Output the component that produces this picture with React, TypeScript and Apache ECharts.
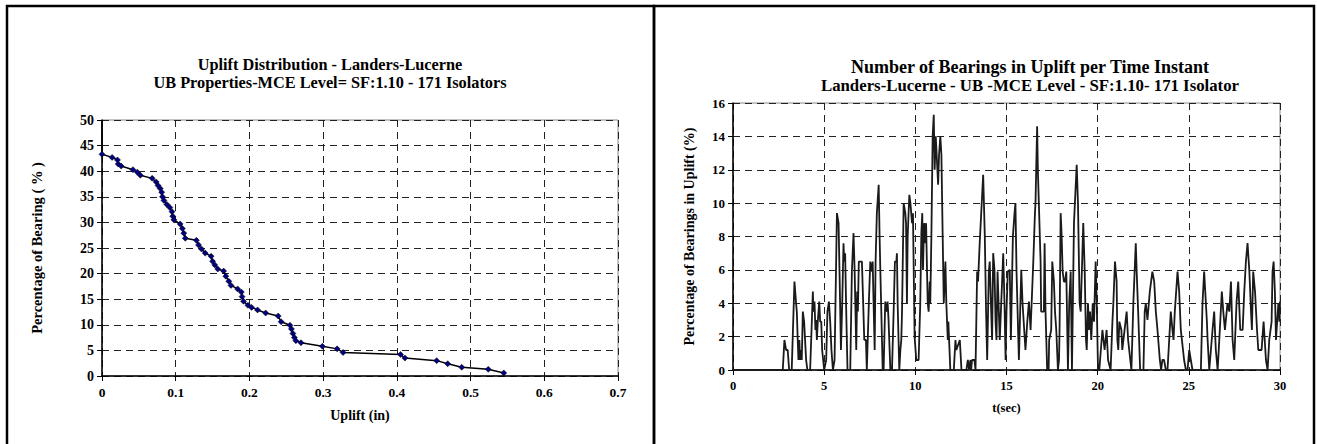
import React, { useEffect, useRef } from "react";
import * as echarts from "echarts";

// ---- Left chart: Uplift distribution (uplift in, % of bearings) ----
const upliftIn = [
  0, 0, 0.0137, 0.021, 0.022, 0.026, 0.042, 0.048, 0.052, 0.068, 0.0735, 0.076, 0.079, 0.081, 0.082,
  0.084, 0.088, 0.092, 0.095, 0.096, 0.0975, 0.106, 0.109, 0.111, 0.113, 0.128, 0.131, 0.135, 0.14,
  0.148, 0.15, 0.153, 0.157, 0.165, 0.168, 0.172, 0.175, 0.184, 0.189, 0.19, 0.192, 0.198, 0.203,
  0.211, 0.222, 0.239, 0.243, 0.255, 0.257, 0.259, 0.261, 0.263, 0.27, 0.299, 0.319, 0.327, 0.405,
  0.411, 0.454, 0.469, 0.488, 0.524, 0.545,
];
const bearingPct = [
  50, 43.3, 42.7, 42.2, 41.4, 41.0, 40.3, 39.8, 39.2, 38.6, 37.9, 37.2, 36.6, 35.9, 35.0,
  34.3, 33.5, 32.9, 32.1, 31.2, 30.5, 29.7, 28.8, 27.9, 26.9, 26.5, 25.6, 24.8, 24.0,
  23.4, 22.4, 21.7, 20.9, 20.5, 19.5, 18.5, 17.7, 17.0, 16.4, 15.5, 14.6, 13.8, 13.4,
  12.9, 12.3, 11.7, 10.6, 9.9, 9.2, 8.3, 7.5, 6.9, 6.5, 5.8, 5.3, 4.6, 4.2,
  3.5, 3.0, 2.4, 1.7, 1.3, 0.6,
];
const upliftTicks = [0, 0.1, 0.2, 0.3, 0.4, 0.5, 0.6, 0.7];

// ---- Right chart: bearings in uplift per time instant ----
const timeSec = [
  0, 2.73, 2.82, 2.91, 3.0, 3.08, 3.22, 3.37, 3.46, 3.5, 3.55, 3.59, 3.64, 3.68, 3.74, 3.77, 3.83, 3.9,
  4.01, 4.08, 4.23, 4.38, 4.41, 4.47, 4.52, 4.56, 4.6, 4.65, 4.73, 4.78, 4.84, 4.89, 5.0, 5.11, 5.18,
  5.26, 5.33, 5.4, 5.48, 5.57, 5.7, 5.79, 5.84, 5.92, 5.99, 6.06, 6.1, 6.15, 6.21, 6.28, 6.43, 6.52,
  6.61, 6.67, 6.76, 6.81, 6.85, 6.9, 7.07, 7.12, 7.2, 7.29, 7.34, 7.45, 7.53, 7.62, 7.66, 7.71, 7.77,
  7.82, 7.89, 7.99, 8.04, 8.08, 8.21, 8.26, 8.35, 8.44, 8.48, 8.53, 8.63, 8.72, 8.81, 8.88, 8.96,
  8.99, 9.03, 9.12, 9.18, 9.23, 9.27, 9.36, 9.45, 9.49, 9.54, 9.58, 9.67, 9.73, 9.82, 9.87, 9.96,
  10.05, 10.18, 10.27, 10.33, 10.38, 10.42, 10.48, 10.53, 10.59, 10.64, 10.68, 10.73, 10.79, 10.82,
  10.88, 10.95, 11.01, 11.06, 11.12, 11.17, 11.25, 11.3, 11.37, 11.43, 11.5, 11.56, 11.65, 11.7,
  11.78, 11.81, 11.92, 12.11, 12.2, 12.25, 12.44, 12.53, 12.8, 12.88, 12.95, 13.02, 13.06, 13.11,
  13.24, 13.3, 13.39, 13.44, 13.53, 13.72, 13.75, 13.81, 13.88, 13.94, 14.03, 14.08, 14.16, 14.21,
  14.27, 14.34, 14.4, 14.45, 14.51, 14.58, 14.63, 14.82, 14.89, 14.95, 15.0, 15.07, 15.18, 15.24,
  15.35, 15.44, 15.49, 15.55, 15.68, 15.81, 15.88, 16.04, 16.14, 16.23, 16.32, 16.47, 16.56, 16.59,
  16.68, 16.72, 16.79, 16.87, 16.9, 17.05, 17.09, 17.14, 17.23, 17.31, 17.34, 17.45, 17.51, 17.6,
  17.66, 17.73, 17.82, 17.88, 17.91, 17.97, 18.02, 18.08, 18.15, 18.21, 18.28, 18.37, 18.44, 18.52,
  18.59, 18.7, 18.85, 18.92, 19.01, 19.07, 19.1, 19.21, 19.29, 19.36, 19.4, 19.47, 19.52, 19.58,
  19.65, 19.73, 19.8, 19.89, 19.95, 20.02, 20.09, 20.26, 20.38, 20.49, 20.57, 20.71, 20.81, 20.86,
  20.95, 21.04, 21.08, 21.13, 21.19, 21.3, 21.35, 21.59, 21.67, 21.85, 21.96, 22.09, 22.14, 22.22,
  22.33, 22.51, 22.58, 22.64, 22.73, 22.86, 23.0, 23.1, 23.19, 23.28, 23.41, 23.48, 23.55, 23.64,
  23.74, 23.83, 24.01, 24.1, 24.16, 24.23, 24.38, 24.47, 24.56, 24.74, 24.84, 24.93, 25.02, 25.11,
  25.2, 25.66, 25.75, 25.84, 25.9, 25.99, 26.03, 26.12, 26.21, 26.3, 26.39, 26.48, 26.58, 26.67,
  26.81, 26.89, 26.98, 27.12, 27.22, 27.31, 27.4, 27.49, 27.62, 27.71, 27.82, 27.95, 28.04, 28.13,
  28.22, 28.32, 28.41, 28.46, 28.53, 28.63, 28.74, 28.81, 28.99, 29.1, 29.23, 29.32, 29.41, 29.54,
  29.59, 29.65, 29.72, 29.78, 29.91, 29.97, 30.0,
];
const upliftPct = [
  0, 0, 1.8, 1.2, 1.2, 0, 0, 5.3, 4.0, 3.5, 1.8, 0.6, 1.8, 0.6, 1.2, 0.6, 3.5, 2.9,
  0.6, 0, 0, 4.7, 3.5, 4.1, 2.4, 3.0, 1.8, 2.9, 4.1, 2.9, 2.9, 1.2, 0, 0.6, 3.5,
  4.1, 2.9, 1.2, 0, 0.6, 9.4, 8.8, 6.0, 1.2, 4.0, 7.6, 6.5, 7.0, 3.5, 0, 0, 5.9,
  8.2, 6.0, 1.2, 4.7, 3.5, 6.5, 6.5, 4.7, 1.8, 1.8, 0, 4.0, 6.5, 5.9, 6.5, 4.0, 1.2,
  6.5, 9.4, 11.1, 8.0, 6.0, 0, 0, 4.1, 3.5, 4.1, 3.0, 0, 0, 3.5, 6.5, 6.5,
  7.0, 4.0, 0, 1.2, 1.8, 3.5, 10.0, 9.4, 8.8, 4.0, 8.0, 10.5, 10.0, 8.8, 9.4, 2.0,
  0.6, 0.6, 4.0, 8.2, 9.4, 6.0, 8.8, 7.6, 8.8, 6.0, 4.0, 3.5, 5.3, 4.0,
  8.0, 14.0, 15.3, 12.0, 14.0, 12.9, 11.1, 12.9, 14.0, 12.9, 8.0, 4.0, 6.5, 4.0,
  1.8, 2.9, 0, 0, 1.8, 1.2, 1.8, 0, 0, 0.6, 0, 0.6, 0, 0.6,
  0.6, 0, 5.9, 5.3, 7.6, 11.7, 10.5, 8.0, 3.5, 0.6, 5.9, 6.5, 3.5, 1.8,
  7.0, 6.0, 2.9, 1.8, 5.9, 3.5, 1.8, 7.0, 4.0, 0.6, 3.5, 5.9, 6.0, 1.8,
  8.0, 9.4, 10.0, 5.9, 0.6, 6.0, 4.0, 1.2, 2.9, 4.1, 2.4, 6.5, 9.4, 10.0,
  14.6, 12.0, 9.4, 6.5, 3.5, 3.5, 7.6, 3.5, 0, 0, 1.8, 2.4, 6.5, 5.3,
  3.5, 2.4, 0, 0.6, 2.4, 9.4, 8.2, 5.9, 5.3, 5.3, 5.9, 0, 4.0, 5.9,
  0, 8.8, 12.3, 10.0, 4.0, 3.5, 4.7, 8.8, 5.9, 1.8, 1.2, 4.0, 2.4, 3.5,
  1.8, 4.0, 2.9, 6.5, 4.0, 0, 0, 2.4, 1.2, 2.4, 0.6, 0, 2.9, 4.0,
  6.5, 5.3, 1.8, 1.2, 2.9, 2.4, 1.2, 3.5, 1.8, 0, 4.1, 7.6, 5.9, 3.5,
  0, 0, 3.5, 4.0, 3.0, 4.7, 5.9, 5.3, 3.5, 2.4, 0.6, 0, 0.6, 0.6,
  0, 0, 3.5, 2.4, 1.8, 3.5, 5.9, 4.7, 2.4, 0.6, 0, 0, 1.2, 0.6,
  0, 0, 4.0, 5.9, 4.7, 2.9, 1.8, 0, 1.2, 2.4, 3.5, 1.2, 0, 1.8,
  4.7, 3.5, 2.4, 4.0, 3.5, 5.3, 1.8, 0.6, 4.1, 5.3, 2.4, 2.4, 4.7, 6.5,
  7.6, 5.9, 3.5, 2.4, 5.9, 4.7, 2.4, 1.2, 1.2, 2.9, 0.6, 0, 1.8, 2.9,
  5.9, 6.5, 4.7, 1.8, 4.0, 2.9, 4.1,
];
const timeTicks = [0, 5, 10, 15, 20, 25, 30];

const FONT = "'Liberation Serif', 'Times New Roman', serif";

export default function App() {
  const ref = useRef<HTMLDivElement>(null);
  useEffect(() => {
    if (!ref.current) return;
    const chart = echarts.init(ref.current, undefined, { renderer: "svg" });

    const txt = (size: number) => ({ fontFamily: FONT, fontWeight: "bold", fontSize: size, color: "#000" });
    const dashed = { show: true, lineStyle: { color: "#222", type: [7, 5], width: 1 } };
    const axisLine = { show: true, onZero: false, lineStyle: { color: "#000", width: 1.5 } };
    const axisTick = { show: true, length: 5, lineStyle: { color: "#000" } };

    const leftData = upliftIn.map((x, i) =>
      i === 0 ? { value: [x, bearingPct[i]], symbol: "none" } : [x, bearingPct[i]]
    );
    const rightData = timeSec.map((t, i) => [t, upliftPct[i]]);

    chart.setOption({
      animation: false,
      backgroundColor: "#fff",
      title: [
        {
          text: "Uplift Distribution - Landers-Lucerne",
          subtext: "UB Properties-MCE Level= SF:1.10 - 171 Isolators",
          left: 330,
          top: 56,
          padding: 0,
          itemGap: 2,
          textAlign: "center",
          textStyle: txt(16.3),
          subtextStyle: txt(16.3),
        },
        {
          text: "Number of Bearings in Uplift per Time Instant",
          subtext: "Landers-Lucerne - UB -MCE Level - SF:1.10- 171 Isolator",
          left: 1030,
          top: 58,
          padding: 0,
          textAlign: "center",
          itemGap: 1,
          textStyle: txt(18),
          subtextStyle: txt(16.8),
        },
      ],
      graphic: [
        { type: "rect", shape: { x: 7, y: 6, width: 647, height: 470 }, style: { fill: "none", stroke: "#000", lineWidth: 2.5 } },
        { type: "rect", shape: { x: 654, y: 6, width: 660, height: 470 }, style: { fill: "none", stroke: "#000", lineWidth: 2.5 } },
      ],
      grid: [
        { left: 102, top: 120, width: 516, height: 256, show: true, borderColor: "#888", borderWidth: 1 },
        { left: 733, top: 103, width: 547, height: 267, show: true, borderColor: "#888", borderWidth: 1 },
      ],
      xAxis: [
        {
          gridIndex: 0, type: "value", min: 0, max: upliftTicks[upliftTicks.length - 1], interval: 0.1,
          name: "Uplift (in)", nameLocation: "middle", nameGap: 32,
          nameTextStyle: txt(14),
          axisLine, axisTick,
          axisLabel: { ...txt(13.5), margin: 9, formatter: (v: number) => String(Math.round(v * 10) / 10) },
          splitLine: dashed,
        },
        {
          gridIndex: 1, type: "value", min: 0, max: timeTicks[timeTicks.length - 1], interval: 5,
          name: "t(sec)", nameLocation: "middle", nameGap: 31,
          nameTextStyle: txt(12.5),
          axisLine, axisTick,
          axisLabel: { ...txt(12.5), margin: 9 },
          splitLine: dashed,
        },
      ],
      yAxis: [
        {
          gridIndex: 0, type: "value", min: 0, max: 50, interval: 5,
          name: "Percentage of Bearing ( % )", nameLocation: "middle", nameGap: 58, nameRotate: 90,
          nameTextStyle: txt(14.5),
          axisLine, axisTick,
          axisLabel: { ...txt(14), margin: 8 },
          splitLine: dashed,
        },
        {
          gridIndex: 1, type: "value", min: 0, max: 16, interval: 2,
          name: "Percentage of Bearings in Uplift (%)", nameLocation: "middle", nameGap: 37, nameRotate: 90,
          nameTextStyle: txt(14),
          axisLine, axisTick,
          axisLabel: { ...txt(13), margin: 8 },
          splitLine: dashed,
        },
      ],
      series: [
        {
          type: "line", xAxisIndex: 0, yAxisIndex: 0, data: leftData,
          symbol: "diamond", symbolSize: 6,
          itemStyle: { color: "#000080", borderColor: "#000", borderWidth: 0.5 },
          lineStyle: { color: "#000", width: 1.5 },
        },
        {
          type: "line", xAxisIndex: 1, yAxisIndex: 1, data: rightData,
          symbol: "none", lineStyle: { color: "#1a1a1a", width: 1.8 },
        },
      ],
    });
    return () => chart.dispose();
  }, []);

  return (
    <div
      ref={ref}
      style={{ position: "absolute", left: 0, top: 0, width: 1317, height: 444, background: "#fff" }}
    />
  );
}
